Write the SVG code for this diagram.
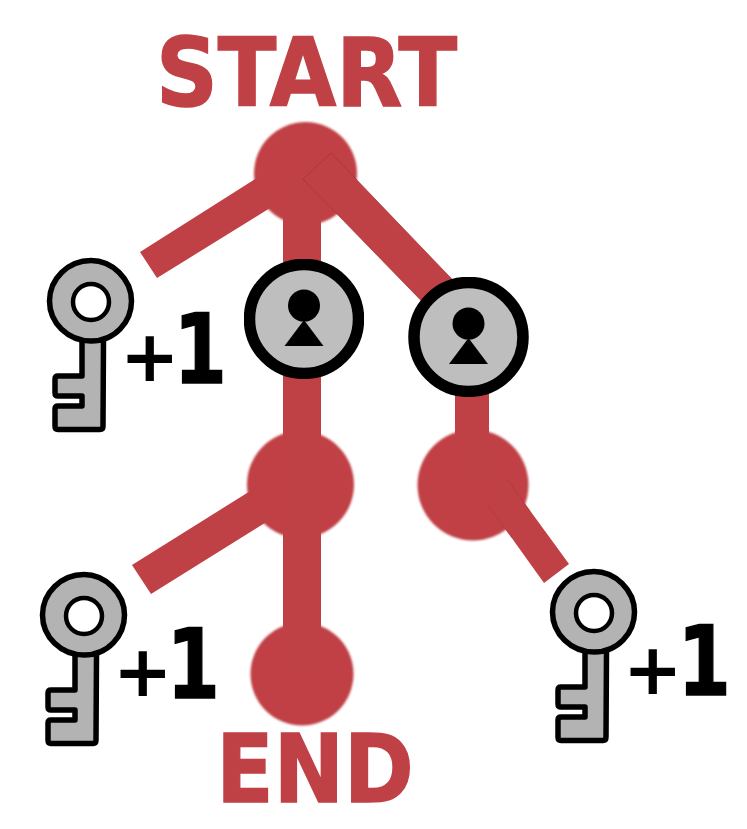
<svg xmlns="http://www.w3.org/2000/svg" width="747" height="829" viewBox="0 0 747 829">
<style>
.r{fill:#c04145}
.d{fill:#c04145;stroke:#a5323a;stroke-width:.7}
.l{fill:none;stroke:#a5323a;stroke-width:.7;stroke-opacity:.6}
.b{filter:url(#soft)}
.t{font-family:"DejaVu Sans",sans-serif;font-weight:700;fill:#c04145;font-size:94px;stroke:#c04145;stroke-width:1.500}
.p{font-family:"DejaVu Sans",sans-serif;font-weight:700;fill:#000;font-size:71px}
.p tspan{font-size:96px;stroke:#000;stroke-width:1.500}
.kb{fill:#b3b3b3;stroke:#000;stroke-width:5.500;stroke-linejoin:round}
.kh{fill:#fff;stroke:#000;stroke-width:4.500}
.lc{fill:#bebebe;stroke:#000;stroke-width:11.500;filter:url(#soft2)}
</style>
<defs>
<filter id="soft" x="-5%" y="-5%" width="110%" height="110%"><feGaussianBlur stdDeviation="0.800"/></filter>
<filter id="soft2" x="-5%" y="-5%" width="110%" height="110%"><feGaussianBlur stdDeviation="0.500"/></filter>
<g id="key">
<path class="kb" d="M82 340V376H58Q55 376 55 379V393Q55 396 58 396H82V406H58Q55 406 55 409V426Q55 429.500 58 429.500H100Q103 429.500 103 426L103.500 340Z"/>
<path class="kb" d="M91 260.500C112 260.500 131.500 279 131.500 301C131.500 322 115 341 91 341C68 341 49.500 323 49.500 301C49.500 279 68 260.500 91 260.500Z"/>
<circle class="kh" cx="91" cy="302" r="18"/>
</g>
<g id="lock">
<circle class="lc" r="54.500"/>
<circle cy="-13.400" r="16"/>
<path d="M0 1L19.500 27H-19.500Z"/>
</g>
</defs>
<g id="n-start" class="b"><circle class="r" cx="305.500" cy="173.500" r="51.500"/></g>
<g id="n-mid-l" class="b"><circle class="r" cx="300.500" cy="484.500" r="53.500"/></g>
<g id="n-mid-r" class="b"><circle class="r" cx="473" cy="485" r="55.500"/></g>
<g id="n-end" class="b"><circle class="r" cx="302" cy="674" r="51.500"/></g>
<g id="connectors">
<rect class="r" x="283" y="174" width="38" height="500"/>
<rect class="r" x="455" y="337" width="34" height="148"/>
<path class="r" d="M140 252L157 278L275 205L260 176Z"/>
<path class="r" d="M132 565L151 594L268 521L255 488Z"/>
<path class="d" d="M303 179L331 153L470 298L440 320Z"/>
<path class="r" d="M488 505L507 479L569 564L544 583Z"/>
<path class="l" d="M488 505L512 538M507 479L530 511"/>
</g>
<g id="lock-1"><use href="#lock" x="304" y="319"/></g>
<g id="lock-2"><use href="#lock" x="468.500" y="337"/></g>
<g id="start-label"><text class="t" transform="translate(306.500 105.500) scale(.914 1)" text-anchor="middle">START</text></g>
<g id="end-label"><text class="t" transform="translate(315 801.500) scale(.893 1)" text-anchor="middle">END</text></g>
<g id="key-1"><use href="#key"/><text class="p" x="120" y="381">+<tspan x="173.600" y="383" textLength="53.400" lengthAdjust="spacingAndGlyphs">1</tspan></text></g>
<g id="key-2"><use href="#key" x="-7" y="314"/><text class="p" x="113" y="696">+<tspan x="166.600" y="698" textLength="53.400" lengthAdjust="spacingAndGlyphs">1</tspan></text></g>
<g id="key-3"><use href="#key" x="503" y="311"/><text class="p" x="623" y="694">+<tspan x="677.600" y="695" textLength="53.400" lengthAdjust="spacingAndGlyphs">1</tspan></text></g>
</svg>
